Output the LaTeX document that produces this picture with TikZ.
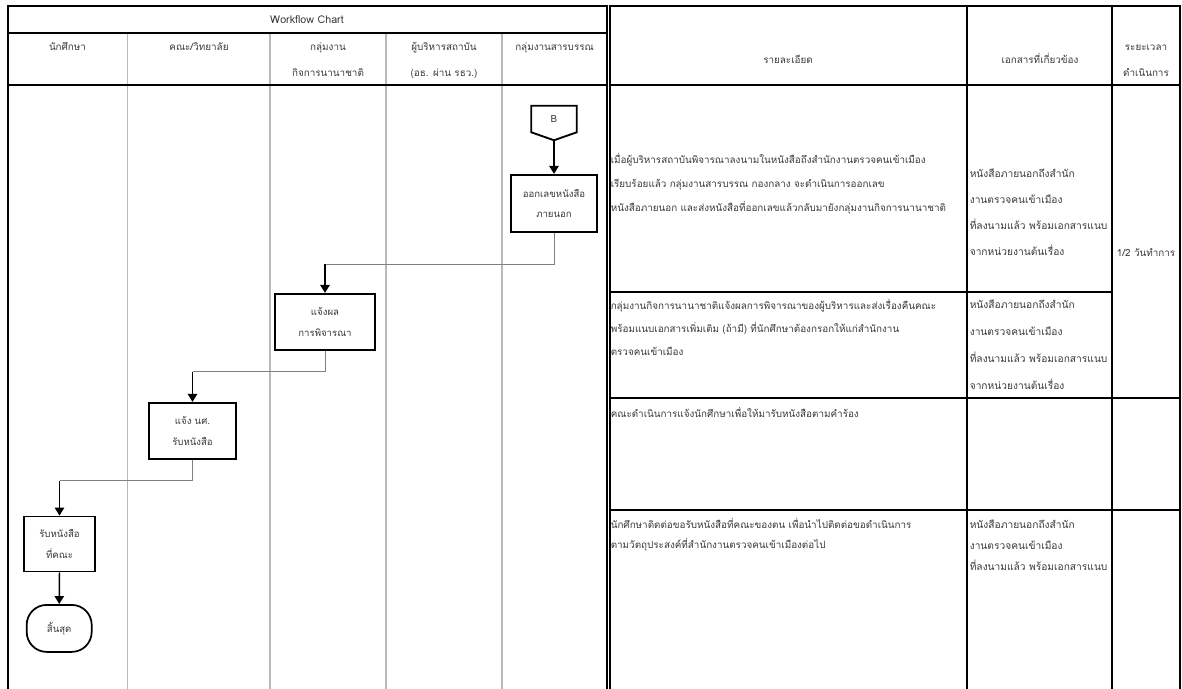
\documentclass[tikz,border=0pt]{standalone}
\usepackage{fontspec}
\setmainfont[Script=Thai]{Loma}
\usetikzlibrary{arrows.meta}
\definecolor{ink}{gray}{0.22}
\definecolor{lanegray}{gray}{0.72}
\definecolor{conngray}{gray}{0.5}
\begin{document}
\begin{tikzpicture}[x=0.75pt,y=-0.75pt,
  frame/.style={line width=1.5pt, line cap=rect},
  gridline/.style={line width=1.1pt},
  lanesep/.style={draw=lanegray, line width=1.1pt},
  hdr/.style={font=\fontsize{7.4}{19.5}\selectfont, text=ink, inner sep=0pt, align=center, anchor=base},
  para/.style={font=\fontsize{7.4}{#1}\selectfont, text=ink, inner sep=0pt, align=left, anchor=base west},
  docpara/.style={font=\fontsize{7.65}{#1}\selectfont, text=ink, inner sep=0pt, align=left, anchor=base west},
  proc/.style={draw, line width=1.6pt, align=center, inner sep=0pt, text=ink,
     font=\fontsize{7.2}{15.5}\selectfont},
  conn/.style={draw=conngray, line width=0.75pt},
  arrowk/.style={line width=1.1pt, -{Triangle[length=6pt,width=7pt]}}
]
\useasboundingbox (0,0) rectangle (1182,689);
% ---- lane separators (gray)
\foreach \xx in {127.5,270,386,502}{
  \draw[lanesep] (\xx,32.5) -- (\xx,689);
}
% ---- workflow frame
\draw[frame] (7.5,689) -- (7.5,6) -- (607,6) -- (607,689);
\draw[frame] (7.5,32.5) -- (607,32.5);
\draw[frame] (7.5,85) -- (607,85);
% ---- right table
\draw[frame] (609.5,689) -- (609.5,6) -- (1179.5,6) -- (1179.5,689);
\draw[frame] (609.5,85) -- (1179.5,85);
\draw[gridline] (967,6) -- (967,689);
\draw[gridline] (1112,6) -- (1112,689);
\draw[gridline] (609.5,292) -- (1112,292);
\draw[gridline] (609.5,398) -- (1179.5,398);
\draw[gridline] (609.5,510) -- (1179.5,510);

% ---- headers (base anchor = baseline of the last line)
\node[hdr, font=\fontsize{8}{10}\selectfont] (hwf) at (307,23) {Workflow Chart};
\node[hdr] (h1) at (67.5,50) {นักศึกษา};
\node[hdr] (h2) at (199,50) {คณะ/วิทยาลัย};
\node[hdr] (h3) at (328,76) {กลุ่มงาน\\กิจการนานาชาติ};
\node[hdr] (h4) at (444,76) {ผู้บริหารสถาบัน\\(อธ. ผ่าน รธว.)};
\node[hdr] (h5) at (554.5,50) {กลุ่มงานสารบรรณ};
\node[hdr] (h6) at (788,63) {รายละเอียด};
\node[hdr] (h7) at (1040,63) {เอกสารที่เกี่ยวข้อง};
\node[hdr] (h8) at (1146,76) {ระยะเวลา\\ดำเนินการ};

% ---- detail texts
\node[para=18.2] (d1) at (610.5,211.6) {เมื่อผู้บริหารสถาบันพิจารณาลงนามในหนังสือถึงสำนักงานตรวจคนเข้าเมือง\\เรียบร้อยแล้ว กลุ่มงานสารบรรณ กองกลาง จะดำเนินการออกเลข\\หนังสือภายนอก และส่งหนังสือที่ออกเลขแล้วกลับมายังกลุ่มงานกิจการนานาชาติ};
\node[para=17.25] (d2) at (610.5,355) {กลุ่มงานกิจการนานาชาติแจ้งผลการพิจารณาของผู้บริหารและส่งเรื่องคืนคณะ\\พร้อมแนบเอกสารเพิ่มเติม (ถ้ามี) ที่นักศึกษาต้องกรอกให้แก่สำนักงาน\\ตรวจคนเข้าเมือง};
\node[para=15] (d3) at (610.5,417) {คณะดำเนินการแจ้งนักศึกษาเพื่อให้มารับหนังสือตามคำร้อง};
\node[para=15] (d4) at (610.5,548) {นักศึกษาติดต่อขอรับหนังสือที่คณะของตน เพื่อนำไปติดต่อขอดำเนินการ\\ตามวัตถุประสงค์ที่สำนักงานตรวจคนเข้าเมืองต่อไป};

% ---- document texts
\node[docpara=19.5] (r1) at (969.5,255) {หนังสือภายนอกถึงสำนัก\\งานตรวจคนเข้าเมือง\\ที่ลงนามแล้ว พร้อมเอกสารแนบ\\จากหน่วยงานต้นเรื่อง};
\node[docpara=20.25] (r2) at (969.5,389) {หนังสือภายนอกถึงสำนัก\\งานตรวจคนเข้าเมือง\\ที่ลงนามแล้ว พร้อมเอกสารแนบ\\จากหน่วยงานต้นเรื่อง};
\node[docpara=15.75] (r4) at (969.5,570) {หนังสือภายนอกถึงสำนัก\\งานตรวจคนเข้าเมือง\\ที่ลงนามแล้ว พร้อมเอกสารแนบ};
\node[hdr] (t1) at (1146,256) {1/2 วันทำการ};

% ---- flow
\node[inner sep=0pt, minimum width=45*0.75pt, minimum height=26*0.75pt, text=ink,
      font=\fontsize{7.4}{10}\selectfont] (conB) at (554,119) {B};
\draw[line width=1.4pt, line join=miter] (conB.north west) -- (conB.north east) -- (conB.south east)
   -- ([yshift=-8*0.75pt]conB.south) -- (conB.south west) -- cycle;
\coordinate (Bout) at ([yshift=-8*0.75pt]conB.south);

\node[proc, minimum width=86*0.75pt, minimum height=57*0.75pt] (p1) at (554,203.5) {ออกเลขหนังสือ\\ภายนอก};
\node[proc, minimum width=100*0.75pt, minimum height=56*0.75pt] (p2) at (325,322) {แจ้งผล\\การพิจารณา};
\node[proc, minimum width=87*0.75pt, minimum height=56*0.75pt] (p3) at (192.5,431) {แจ้ง นศ.\\รับหนังสือ};
\node[proc, line width=1.3pt, minimum width=71*0.75pt, minimum height=55*0.75pt] (p4) at (59.5,544) {รับหนังสือ\\ที่คณะ};
\node[proc, line width=1.3pt, rounded corners=15pt, minimum width=65*0.75pt, minimum height=47*0.75pt] (pend) at (59.2,628.4) {สิ้นสุด};

\coordinate (j1) at (325,264);
\coordinate (j2) at (192.5,371.7);
\coordinate (j3) at (59.5,480.7);

\draw[arrowk] (Bout) -- (p1.north);
\draw[conn] (p1.south) |- (j1);
\draw[arrowk] (j1) -- (p2.north);
\draw[conn] (p2.south) |- (j2);
\draw[arrowk] (j2) -- (p3.north);
\draw[conn] (p3.south) |- (j3);
\draw[arrowk] (j3) -- (p4.north);
\draw[arrowk] (p4.south) -- (pend.north);
\end{tikzpicture}
\end{document}
